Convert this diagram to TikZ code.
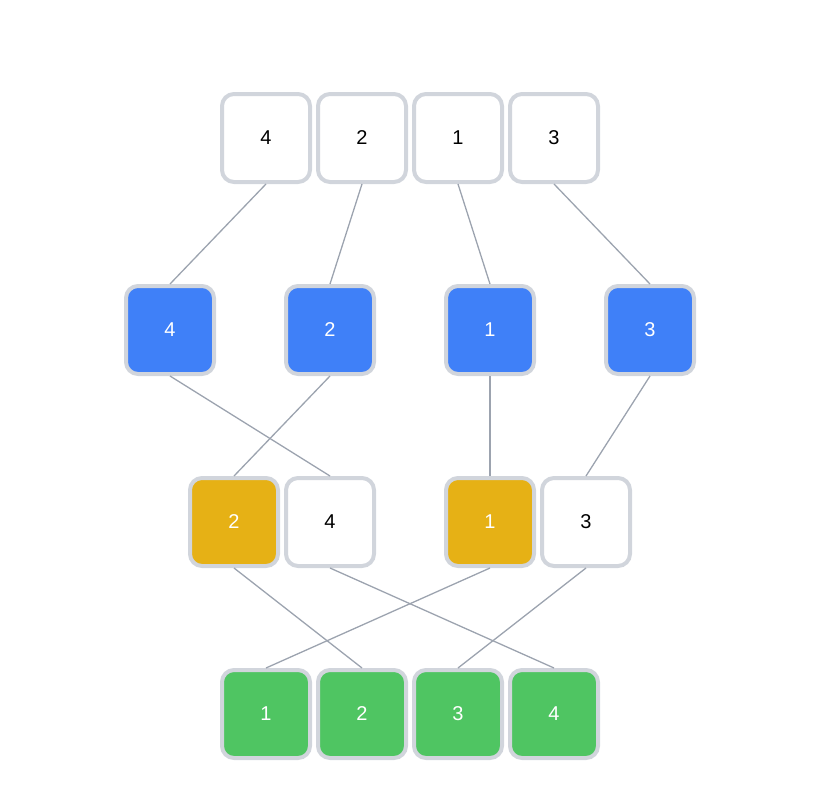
\documentclass[tikz,border=0pt]{standalone}
\usepackage{fontspec}
\setmainfont{Liberation Sans}
\usepackage{tikz}
\definecolor{edge}{HTML}{D1D5DC}
\definecolor{wire}{HTML}{9CA3AF}
\definecolor{sblue}{HTML}{3F80F8}
\definecolor{syellow}{HTML}{E6B115}
\definecolor{sgreen}{HTML}{4FC562}
\tikzset{
	cell/.style={draw=edge,line width=4pt,rounded corners=12pt,minimum size=88pt,inner sep=0pt,font=\fontsize{20pt}{22pt}\selectfont},
	plain/.style={cell,fill=white,text=black},
	split/.style={cell,fill=sblue,text=white},
	pick/.style={cell,fill=syellow,text=white},
	done/.style={cell,fill=sgreen,text=white},
	link/.style={wire,line width=1.3pt}
}

\begin{document}
\begin{tikzpicture}[x=1pt,y=-1pt]
			\useasboundingbox (0,0) rectangle (816,792);
			
			% input
			\node[plain] (in4) at (266,138) {4};
			\node[plain] (in2) at (362,138) {2};
			\node[plain] (in1) at (458,138) {1};
			\node[plain] (in3) at (554,138) {3};
			
			% split
			\node[split] (sp4) at (170,330) {4};
			\node[split] (sp2) at (330,330) {2};
			\node[split] (sp1) at (490,330) {1};
			\node[split] (sp3) at (650,330) {3};
			
			% merge pairs
			\node[pick] (mg2) at (234,522) {2};
			\node[plain] (mg4) at (330,522) {4};
			\node[pick] (mg1) at (490,522) {1};
			\node[plain] (mg3) at (586,522) {3};
			
			% output
			\node[done] (out1) at (266,714) {1};
			\node[done] (out2) at (362,714) {2};
			\node[done] (out3) at (458,714) {3};
			\node[done] (out4) at (554,714) {4};
			
			\draw[link] (in4.south) -- (sp4.north);
			\draw[link] (in2.south) -- (sp2.north);
			\draw[link] (in1.south) -- (sp1.north);
			\draw[link] (in3.south) -- (sp3.north);
			
			\draw[link] (sp4.south) -- (mg4.north);
			\draw[link] (sp2.south) -- (mg2.north);
			\draw[link] (sp1.south) -- (mg1.north);
			\draw[link] (sp3.south) -- (mg3.north);
			
			\draw[link] (mg2.south) -- (out2.north);
			\draw[link] (mg4.south) -- (out4.north);
			\draw[link] (mg1.south) -- (out1.north);
			\draw[link] (mg3.south) -- (out3.north);
			
		\end{tikzpicture}
\end{document}
